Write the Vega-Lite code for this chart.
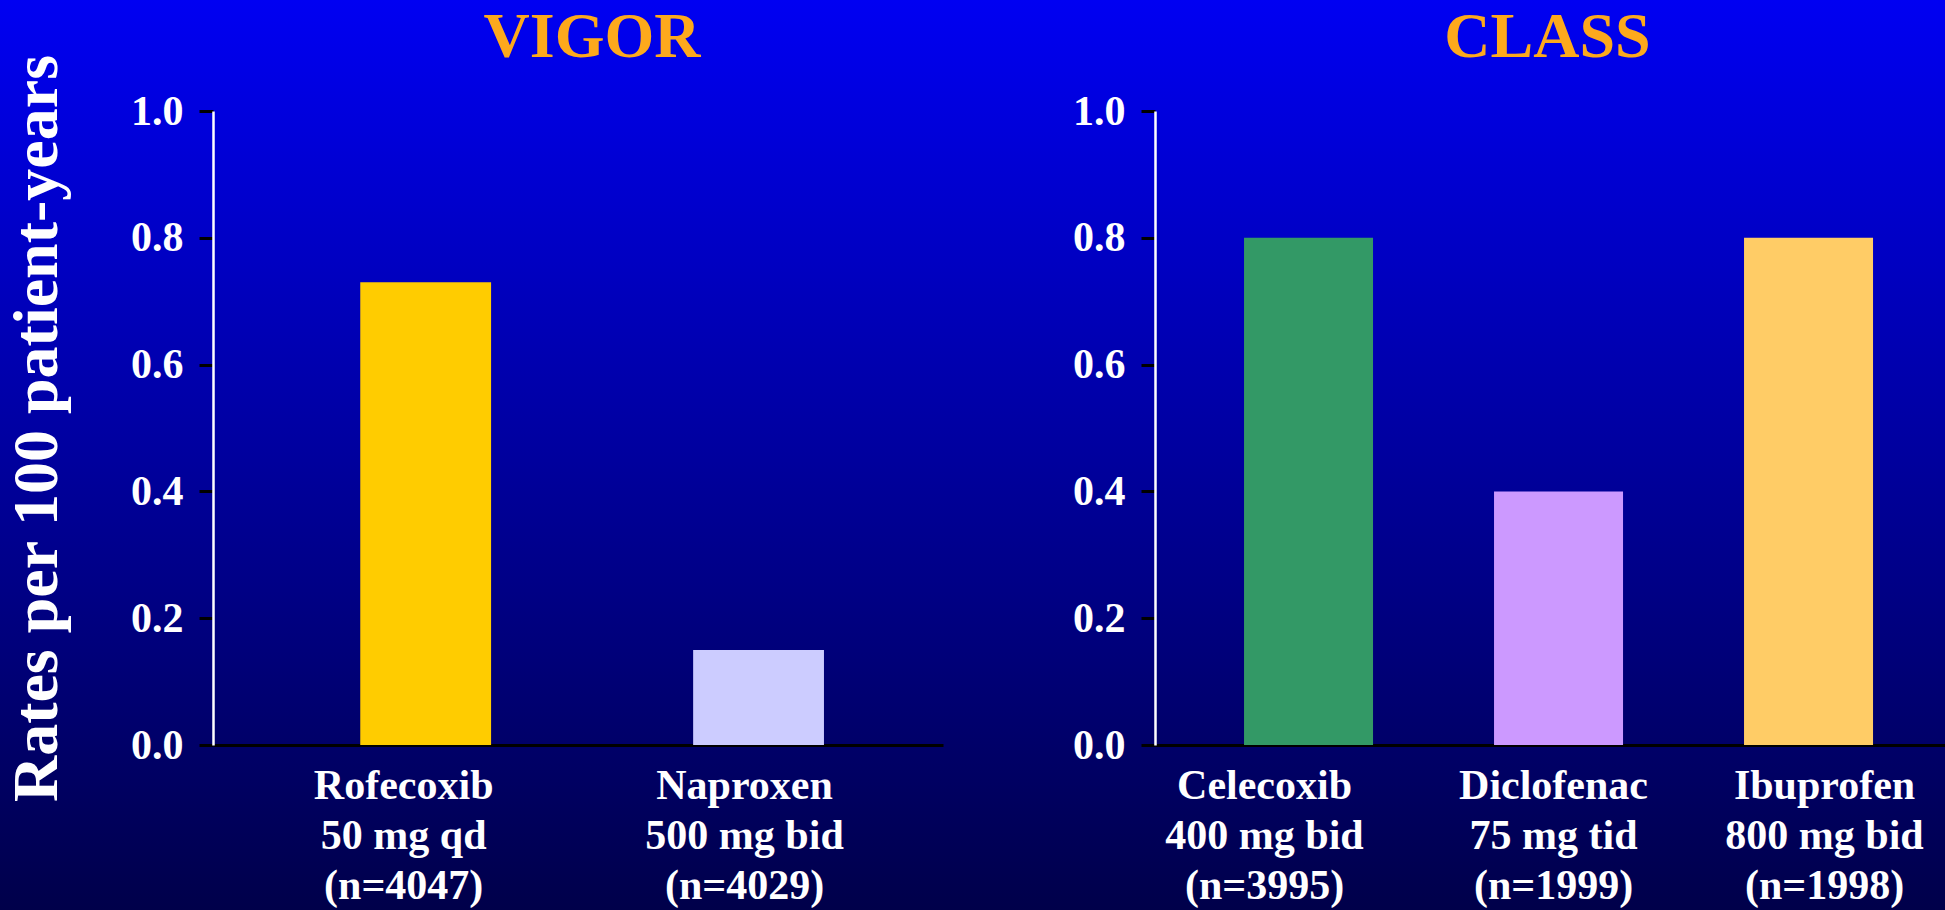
{
  "$schema": "https://vega.github.io/schema/vega-lite/v6.json",
  "padding": 0,
  "spacing": 0,
  "bounds": "flush",
  "background": "#00009A",
  "config": {
    "font": "Liberation Serif",
    "view": {"stroke": null},
    "axis": {
      "grid": false,
      "labelFont": "Liberation Serif",
      "labelFontWeight": "bold",
      "labelColor": "white",
      "titleFont": "Liberation Serif",
      "titleFontWeight": "bold",
      "titleColor": "white"
    },
    "title": {
      "font": "Liberation Serif",
      "fontWeight": "bold",
      "fontSize": 64,
      "color": "#FDA91C",
      "anchor": "middle",
      "frame": "group",
      "baseline": "alphabetic",
      "offset": -70
    }
  },
  "resolve": {"scale": {"x": "independent", "y": "independent", "color": "independent"}},
  "datasets": {
    "vigor": [
      {"drug": "Rofecoxib|50 mg qd |(n=4047)", "name": "Rofecoxib", "rate": 0.73},
      {"drug": "Naproxen|500 mg bid|(n=4029)", "name": "Naproxen", "rate": 0.15}
    ],
    "class": [
      {"drug": "Celecoxib|400 mg bid|(n=3995)", "name": "Celecoxib", "rate": 0.80},
      {"drug": "Diclofenac|75 mg tid|(n=1999)", "name": "Diclofenac", "rate": 0.40},
      {"drug": "Ibuprofen|800 mg bid|(n=1998)", "name": "Ibuprofen", "rate": 0.80}
    ]
  },
  "hconcat": [
    {
      "width": 1000,
      "height": 910,
      "view": {
        "stroke": null,
        "fill": {
          "gradient": "linear",
          "x1": 0, "y1": 0, "x2": 0, "y2": 1,
          "stops": [
            {"offset": 0, "color": "#0000F2"},
            {"offset": 1, "color": "#00004A"}
          ]
        }
      },
      "title": {"text": "VIGOR", "dx": 92},
      "data": {"name": "vigor"},
      "mark": {"type": "bar"},
      "encoding": {
        "x": {
          "field": "drug",
          "type": "nominal",
          "sort": null,
          "scale": {"range": [213, 943], "paddingInner": 0.607, "paddingOuter": 0.4, "align": 0.553},
          "axis": {
            "title": null,
            "orient": "bottom",
            "offset": -165,
            "ticks": false,
            "domainColor": "black",
            "domainWidth": 3,
            "labelExpr": "split(datum.label, '|')",
            "labelFontSize": 42,
            "labelLineHeight": 50,
            "labelPadding": 20,
            "labelAngle": 0,
            "labelLimit": 400,
            "labelOffset": {"expr": "indexof(datum.value, 'Rofecoxib') >= 0 ? -22 : -14"}
          }
        },
        "y": {
          "field": "rate",
          "type": "quantitative",
          "scale": {"domain": [0, 1], "range": [745, 111], "nice": false},
          "axis": {
            "title": "Rates per 100 patient-years",
            "values": [0, 0.2, 0.4, 0.6, 0.8, 1],
            "format": ".1f",
            "offset": -213,
            "domainColor": "white",
            "domainWidth": 2.5,
            "tickColor": "black",
            "tickWidth": 3,
            "tickSize": 14,
            "labelPadding": 16,
            "labelFontSize": 42,
            "titleFontSize": 64,
            "titleAngle": -90,
            "titleBaseline": "alphabetic",
            "titleX": -157
          }
        },
        "color": {
          "field": "name",
          "type": "nominal",
          "scale": {"domain": ["Rofecoxib", "Naproxen"], "range": ["#FFCC00", "#CCCCFF"]},
          "legend": null
        }
      }
    },
    {
      "width": 945,
      "height": 910,
      "view": {
        "stroke": null,
        "fill": {
          "gradient": "linear",
          "x1": 0, "y1": 0, "x2": 0, "y2": 1,
          "stops": [
            {"offset": 0, "color": "#0000F2"},
            {"offset": 1, "color": "#00004A"}
          ]
        }
      },
      "title": {"text": "CLASS", "dx": 75},
      "data": {"name": "class"},
      "mark": {"type": "bar"},
      "encoding": {
        "x": {
          "field": "drug",
          "type": "nominal",
          "sort": null,
          "scale": {"range": [155, 945], "paddingInner": 0.484, "paddingOuter": 0.322, "align": 0.553},
          "axis": {
            "title": null,
            "orient": "bottom",
            "offset": -165,
            "ticks": false,
            "domainColor": "black",
            "domainWidth": 3,
            "labelExpr": "split(datum.label, '|')",
            "labelFontSize": 42,
            "labelLineHeight": 50,
            "labelPadding": 20,
            "labelAngle": 0,
            "labelLimit": 400,
            "labelOffset": {"expr": "indexof(datum.value, 'Celecoxib') >= 0 ? -44 : indexof(datum.value, 'Diclofenac') >= 0 ? -5 : 16"}
          }
        },
        "y": {
          "field": "rate",
          "type": "quantitative",
          "scale": {"domain": [0, 1], "range": [745, 111], "nice": false},
          "axis": {
            "title": null,
            "values": [0, 0.2, 0.4, 0.6, 0.8, 1],
            "format": ".1f",
            "offset": -155,
            "domainColor": "white",
            "domainWidth": 2.5,
            "tickColor": "black",
            "tickWidth": 3,
            "tickSize": 14,
            "labelPadding": 16,
            "labelFontSize": 42
          }
        },
        "color": {
          "field": "name",
          "type": "nominal",
          "scale": {"domain": ["Celecoxib", "Diclofenac", "Ibuprofen"], "range": ["#339966", "#CC99FF", "#FFCC66"]},
          "legend": null
        }
      }
    }
  ]
}
